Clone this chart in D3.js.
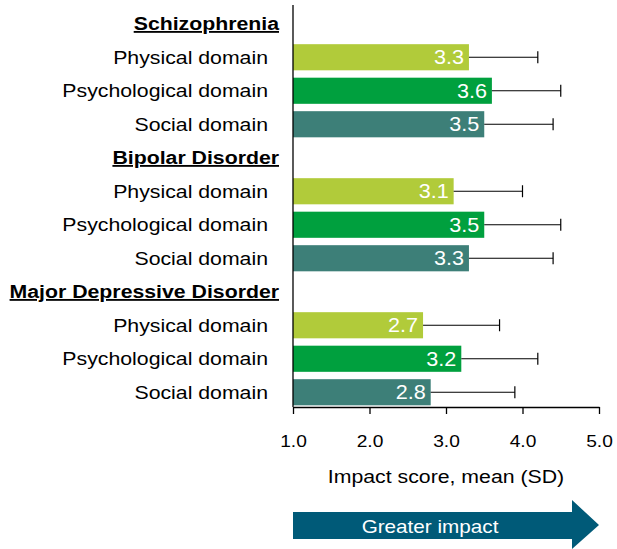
<!DOCTYPE html>
<html>
<head>
<meta charset="utf-8">
<script src="https://cdn.jsdelivr.net/npm/d3@7"></script>
<style>
  body { margin: 0; background: #fff; }
  text { font-family: "Liberation Sans", Arial, sans-serif; }
</style>
</head>
<body>
<script>
// data
var groups = ['Schizophrenia', 'Bipolar Disorder', 'Major Depressive Disorder']
var domains = ['Physical domain', 'Psychological domain', 'Social domain']
var means = [
  [3.3, 3.6, 3.5],
  [3.1, 3.5, 3.3],
  [2.7, 3.2, 2.8]
]
var sds = [
  [0.9, 0.9, 0.9],
  [0.9, 1.0, 1.1],
  [1.0, 1.0, 1.1]
]
var ticks = [1, 2, 3, 4, 5]
var colors = ['#b1cb3a', '#00a03e', '#3d7f78']

var W = 617, H = 549
var SX = 1.15 // the source text is a bit wide
var svg = d3.select('body').append('svg')
  .attr('width', W)
  .attr('height', H)

// one row per header + one per domain
var rows = []
groups.forEach(function (g, gi) {
  rows.push({key: 'h' + gi, header: true, label: g})
  domains.forEach(function (d, di) {
    rows.push({key: gi + '-' + di, header: false, label: d, di: di, value: means[gi][di], sd: sds[gi][di]})
  })
})

var x = d3.scaleLinear().domain([1, 5]).range([293, 599])
var y = d3.scaleBand().domain(rows.map(r => r.key)).range([7, 409]).paddingInner(0.22).paddingOuter(0.11)
var mid = d => y(d.key) + y.bandwidth() / 2

var bars = rows.filter(r => !r.header)

svg.selectAll('rect.bar')
  .data(bars)
  .enter().append('rect')
  .attr('class', 'bar')
  .attr('x', x(1))
  .attr('y', d => y(d.key))
  .attr('width', d => x(d.value) - x(1))
  .attr('height', y.bandwidth())
  .attr('fill', d => colors[d.di])

// error bars
var err = svg.selectAll('g.err')
  .data(bars)
  .enter().append('g')
  .attr('class', 'err')
  .attr('stroke', '#000')
  .attr('stroke-width', 1.2)
err.append('line')
  .attr('x1', d => x(d.value))
  .attr('x2', d => x(d.value + d.sd))
  .attr('y1', mid)
  .attr('y2', mid)
err.append('line')
  .attr('x1', d => x(d.value + d.sd))
  .attr('x2', d => x(d.value + d.sd))
  .attr('y1', d => mid(d) - 6)
  .attr('y2', d => mid(d) + 6)

// value labels
svg.selectAll('text.val')
  .data(bars)
  .enter().append('text')
  .attr('class', 'val')
  .attr('transform', d => `translate(${x(d.value) - 5}, ${mid(d)}) scale(1.08, 1)`)
  .attr('dy', '0.36em')
  .attr('text-anchor', 'end')
  .attr('fill', '#fff')
  .attr('font-size', '20px')
  .text(d => d.value.toFixed(1))

// row labels
svg.selectAll('text.lab')
  .data(rows)
  .enter().append('text')
  .attr('class', 'lab')
  .attr('transform', d => `translate(${d.header ? 279 : 268}, ${mid(d)}) scale(${SX}, 1)`)
  .attr('dy', '0.34em')
  .attr('text-anchor', 'end')
  .attr('font-size', '18.5px')
  .attr('font-weight', d => d.header ? 'bold' : 'normal')
  .attr('text-decoration', d => d.header ? 'underline' : null)
  .attr('fill', '#000')
  .text(d => d.label)

// axes
svg.append('line')
  .attr('x1', x(1)).attr('x2', x(1))
  .attr('y1', 5).attr('y2', 407)
  .attr('stroke', '#000').attr('stroke-width', 1.3)

var xAxis = svg.append('g')
  .attr('transform', 'translate(0, 407)')
  .call(d3.axisBottom(x).tickValues(ticks).tickSize(7).tickSizeOuter(0).tickFormat(d3.format('.1f')))
xAxis.select('.domain').attr('stroke', '#000').attr('stroke-width', 1.3)
xAxis.selectAll('.tick line').attr('stroke', '#000').attr('stroke-width', 1.3)
xAxis.selectAll('.tick text')
  .attr('y', 40)
  .attr('dy', 0)
  .attr('transform', 'scale(1.13, 1)')
  .attr('font-size', '17px')
  .attr('font-family', '"Liberation Sans", Arial, sans-serif')
  .attr('fill', '#000')

svg.append('text')
  .attr('transform', `translate(446, 483) scale(${SX}, 1)`)
  .attr('text-anchor', 'middle')
  .attr('font-size', '18.5px')
  .text('Impact score, mean (SD)')

// arrow
var ax0 = x(1), ax1 = x(5), headW = 27
svg.append('path')
  .attr('d', d3.line()([
    [ax0, 512], [ax1 - headW, 512], [ax1 - headW, 500], [ax1, 525],
    [ax1 - headW, 549], [ax1 - headW, 539], [ax0, 539]
  ]) + 'Z')
  .attr('fill', '#005a78')

svg.append('text')
  .attr('transform', `translate(430, 533) scale(${SX}, 1)`)
  .attr('text-anchor', 'middle')
  .attr('font-size', '18px')
  .attr('fill', '#fff')
  .text('Greater impact')
</script>
</body>
</html>
